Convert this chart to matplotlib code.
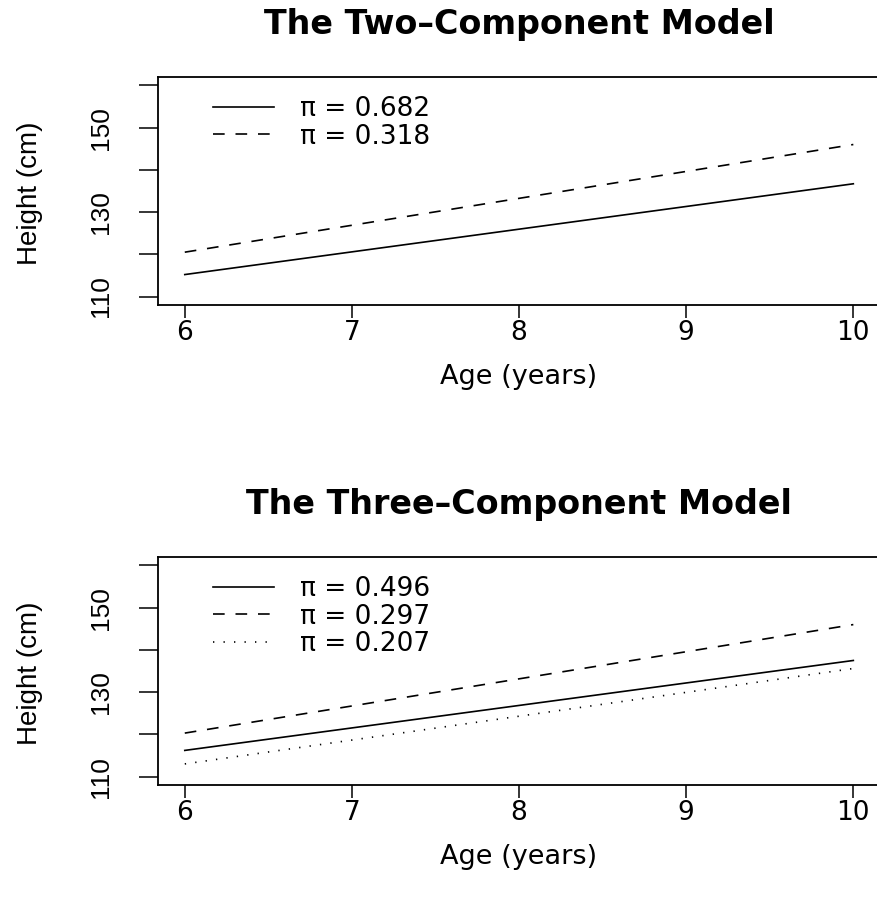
import matplotlib
matplotlib.use('Agg')
import matplotlib.pyplot as plt

plt.rcParams['font.family'] = ['DejaVu Sans']

# fitted lines: height at age 6 and at age 10
ages = [6, 10]
two_pi = ['0.682', '0.318']
two_lines = [[115.2, 136.7], [120.5, 146.0]]
three_pi = ['0.496', '0.297', '0.207']
three_lines = [[116.2, 137.5], [120.3, 146.0], [113.0, 135.6]]
titles = ['The Two\u2013Component Model', 'The Three\u2013Component Model']

yticks = [110, 120, 130, 140, 150, 160]
ylabs = ['110', '', '130', '', '150', '']
xticks = [6, 7, 8, 9, 10]

styles = [dict(ls='-'), dict(ls=(0, (7, 6.5))), dict(ls=(0, (0.8, 5.5)))]
narrow = ['Liberation Sans Narrow', 'Liberation Sans']

fig = plt.figure(figsize=(8.77, 8.98), dpi=100)
ax1 = fig.add_axes([0.1802, 0.6604, 0.8233, 0.2539])
ax2 = fig.add_axes([0.1802, 0.1258, 0.8233, 0.2539])

for ax, lines, pis, title in [(ax1, two_lines, two_pi, titles[0]),
                              (ax2, three_lines, three_pi, titles[1])]:
    for i, (vals, p) in enumerate(zip(lines, pis)):
        ax.plot(ages, vals, color='black', lw=1.2, label='\u03c0 = ' + p, **styles[i])
    ax.set_xlim(5.84, 10.16)
    ax.set_ylim(108, 162)
    ax.set_xticks(xticks)
    ax.set_yticks(yticks)
    ax.set_yticklabels(ylabs, family=narrow, fontsize=19, rotation=90, va='center')
    ax.tick_params(axis='x', length=9.4, width=1.1, pad=1.5, labelsize=19)
    ax.tick_params(axis='y', length=13.7, width=1.1, pad=19)
    for s in ax.spines.values():
        s.set_linewidth(1.3)
    ax.set_title(title, fontsize=24, fontweight='bold', pad=31)
    ax.set_xlabel('Age (years)', fontsize=19.5)
    ax.xaxis.set_label_coords(0.5, -0.316)
    ax.xaxis.label.set_va('center')
    ax.set_ylabel('Height (cm)', family=narrow, fontsize=20)
    ax.yaxis.set_label_coords(-0.178, 0.489)
    ax.yaxis.label.set_va('center')
    ax.legend(loc='upper left', bbox_to_anchor=(0.0762, 0.915), frameon=False,
              fontsize=19, handlelength=2.3, handletextpad=1.0, labelspacing=0.05,
              borderpad=0, borderaxespad=0)

fig.savefig('out.png', dpi=100)
